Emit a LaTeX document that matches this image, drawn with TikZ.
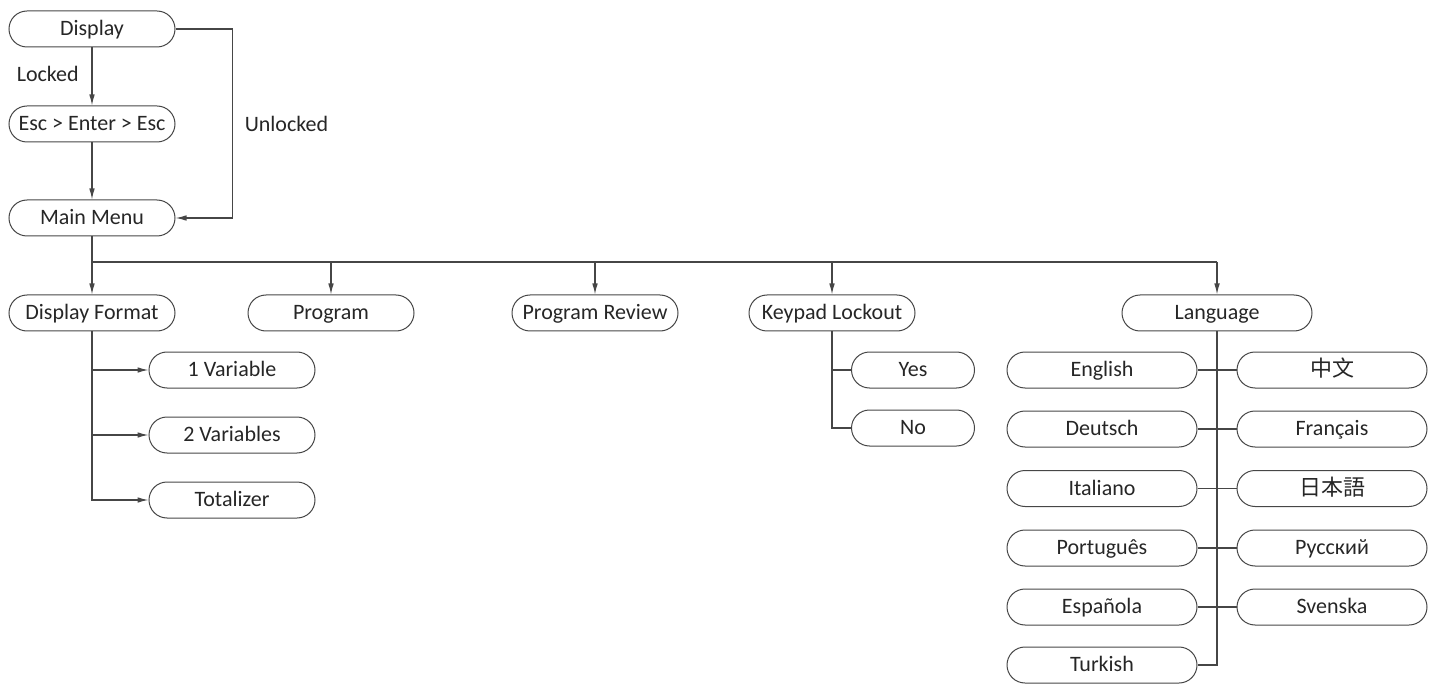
\documentclass[tikz,border=0pt]{standalone}
\usepackage{fontspec}
\setmainfont{Carlito}
\newfontfamily\cjksc{Noto Sans CJK SC}
\newfontfamily\cjkjp{Noto Sans CJK JP}
\usetikzlibrary{arrows.meta}
\definecolor{ln}{RGB}{70,70,70}

\begin{document}
\begin{tikzpicture}[x=0.5pt,y=-0.5pt,>={Latex[length=5.5pt,width=2.8pt]},
  every node/.style={font=\fontsize{11}{13}\selectfont,text=black!85},
  menu/.style={draw=ln,line width=0.5pt,rounded corners=9pt,minimum width=83pt,minimum height=18pt,inner sep=0pt,text height=7.5pt,text depth=1pt},
  lng/.style={menu,minimum width=95pt},
  small/.style={menu,minimum width=61.5pt},
  wire/.style={draw=ln,line width=0.6pt}]
\useasboundingbox (0,0) rectangle (1435,684);
% top part
\node[menu] (disp) at (92,29) {Display};
\node[menu] (esc) at (92,124) {Esc > Enter > Esc};
\node[menu] (main) at (92,218) {Main Menu};
\draw[wire,->] (disp) -- node[pos=0.45,left=3pt] {Locked} (esc);
\draw[wire,->] (esc) -- (main);
\draw[wire,->] (disp.east) -- ++(57,0) |- node[pos=0.25,right=2.5pt] {Unlocked} (main.east);
% main menu entries
\node[menu] (fmt) at (92,313) {Display Format};
\node[menu] (prog) at (331,313) {Program};
\node[menu] (rev) at (595,313) {Program Review};
\node[menu] (keyp) at (832,313) {Keypad Lockout};
\node[menu,minimum width=95pt] (lang) at (1217,313) {Language};
\coordinate (busL) at (92,262); \coordinate (busR) at (1217,262);
\draw[wire] (main) -- (busL) -- (busR);
\foreach \n in {fmt,prog,rev,keyp,lang} \draw[wire,->] (busL -| \n) -- (\n);
% display format
\node[menu] (var1) at (232,370) {1 Variable};
\node[menu] (var2) at (232,435) {2 Variables};
\node[menu] (tot) at (232,500) {Totalizer};
\draw[wire,->] (fmt) |- (tot);
\draw[wire,->] (fmt.south |- var1) -- (var1);
\draw[wire,->] (fmt.south |- var2) -- (var2);
% keypad lockout
\node[small] (yes) at (913,370) {Yes};
\node[small] (no) at (913,428) {No};
\draw[wire] (keyp) |- (no);
\draw[wire] (keyp.south |- yes) -- (yes);
% languages
\node[lng] (en) at (1102,370) {English};
\node[lng] (zh) at (1332,370) {\cjksc 中文};
\node[lng] (de) at (1102,429) {Deutsch};
\node[lng] (fr) at (1332,429) {Français};
\node[lng] (it) at (1102,488.5) {Italiano};
\node[lng] (ja) at (1332,488.5) {\cjkjp 日本語};
\node[lng] (pt) at (1102,548) {Português};
\node[lng] (ru) at (1332,548) {Русский};
\node[lng] (es) at (1102,607) {Española};
\node[lng] (sv) at (1332,607) {Svenska};
\node[lng] (tr) at (1102,665) {Turkish};
\draw[wire] (lang) |- (tr);
\foreach \a/\b in {en/zh,de/fr,it/ja,pt/ru,es/sv} \draw[wire] (\a) -- (\b);
\end{tikzpicture}
\end{document}
